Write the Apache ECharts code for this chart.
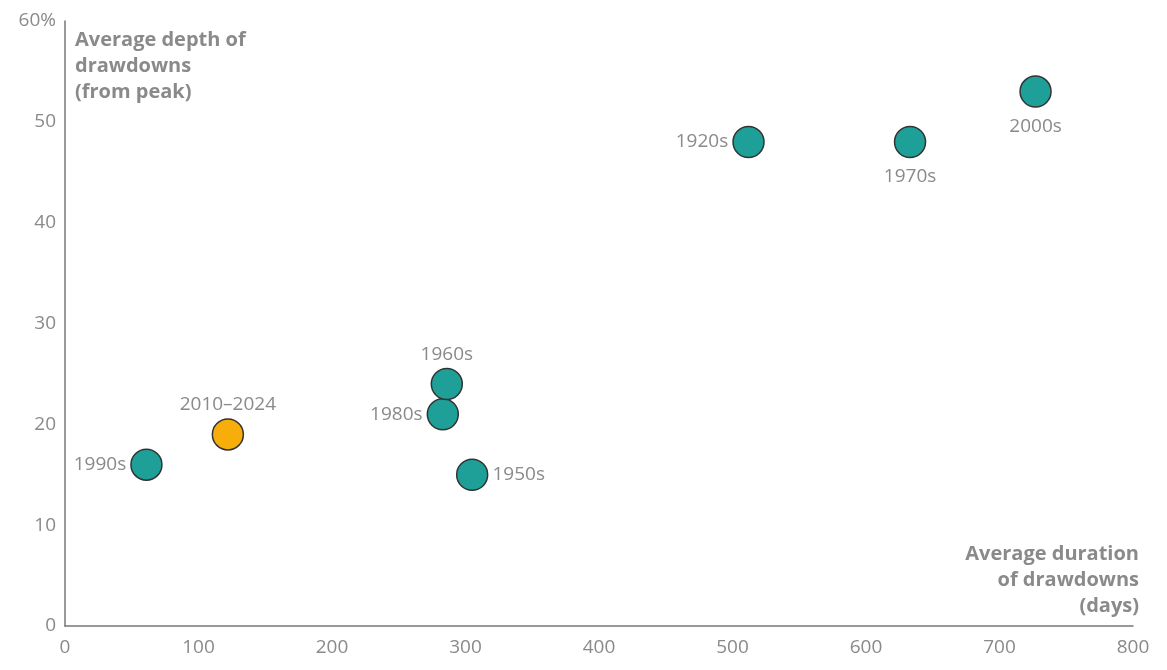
<!DOCTYPE html>
<html>
<head>
<meta charset="utf-8">
<script src="https://cdn.jsdelivr.net/npm/echarts@6/dist/echarts.min.js"></script>
<style>
  html, body { margin: 0; padding: 0; background: #fff; }
  #chart { width: 1167px; height: 670px; }
</style>
</head>
<body>
<div id="chart"></div>
<script>
// 데이터
const periods = ["1990s", "2010–2024", "1980s", "1960s", "1950s", "1920s", "1970s", "2000s"];
const durationDays = [61, 122, 283, 286, 305, 512, 633, 727];
const depthPct = [16, 19, 21, 24, 15, 48, 48, 53];
const highlighted = ["2010–2024"];

// 라벨 위치
const labelSide = {
  "1990s": "left",
  "2010–2024": "top",
  "1980s": "left",
  "1960s": "top",
  "1950s": "right",
  "1920s": "left",
  "1970s": "bottom",
  "2000s": "bottom",
};

const FONT = "'Open Sans'";
const GREY = "#8a8a8a";

const points = periods.map((p, i) => ({
  name: p,
  value: [durationDays[i], depthPct[i]],
  itemStyle: { color: highlighted.includes(p) ? "#f7ae0a" : "#1e9f98" },
  label: {
    position: labelSide[p],
    distance: labelSide[p] === "bottom" ? 9 : 4,
  },
}));

const chart = echarts.init(document.getElementById("chart"));
chart.setOption({
  animation: false,
  grid: { left: 65, right: 34, top: 21, bottom: 44 },
  xAxis: {
    type: "value",
    min: 0,
    max: 800,
    interval: 100,
    axisLine: { lineStyle: { color: "#777", width: 1.5 } },
    axisTick: { show: false },
    splitLine: { show: false },
    axisLabel: { color: GREY, fontFamily: FONT, fontSize: 19, margin: 12 },
  },
  yAxis: {
    type: "value",
    min: 0,
    max: 60,
    interval: 10,
    axisLine: { show: true, lineStyle: { color: "#777", width: 1.5 } },
    axisTick: { show: false },
    splitLine: { show: false },
    axisLabel: {
      color: GREY,
      fontFamily: FONT,
      fontSize: 19,
      margin: 9,
      formatter: (v) => (v === 60 ? "60%" : v),
    },
  },
  graphic: [
    {
      type: "text",
      x: 75,
      y: 27,
      style: {
        text: "Average depth of\ndrawdowns\n(from peak)",
        fill: GREY,
        font: "bold 20px " + FONT,
        lineHeight: 26,
      },
    },
    {
      type: "text",
      x: 1139,
      y: 541,
      style: {
        text: "Average duration\nof drawdowns\n(days)",
        fill: GREY,
        font: "bold 20px " + FONT,
        lineHeight: 26,
        align: "right",
      },
    },
  ],
  series: [
    {
      type: "scatter",
      symbolSize: 31,
      data: points,
      itemStyle: { borderColor: "#333", borderWidth: 1.5, opacity: 1 },
      label: {
        show: true,
        formatter: "{b}",
        color: GREY,
        fontFamily: FONT,
        fontSize: 19,
      },
    },
  ],
});
</script>
</body>
</html>
